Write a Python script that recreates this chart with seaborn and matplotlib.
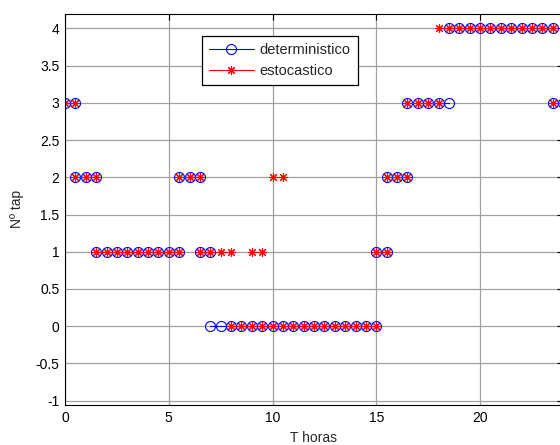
import numpy as np
import pandas as pd
import matplotlib
matplotlib.use("Agg")
import matplotlib.pyplot as plt
import seaborn as sns
from matplotlib.lines import Line2D

# half-hour intervals [0.5*i, 0.5*i+0.5], i = 0..47
det_levels = ([3] + [2]*2 + [1]*8 + [2]*2 + [1] + [0]*16 + [1] + [2]*2
              + [3]*4 + [4]*10 + [3])
est_levels = ([3] + [2]*2 + [1]*8 + [2]*2 + [1]*3 + [0]*2 + [1] + [0] + [2]
              + [0]*9 + [1] + [2]*2 + [3]*3 + [4]*11 + [3])
step = 0.5
series_names = ["deterministico", "estocastico"]
xticks = [0, 5, 10, 15, 20]
yticks = [-1, -0.5, 0, 0.5, 1, 1.5, 2, 2.5, 3, 3.5, 4]


def runs_frame(levels, name):
    rows = []
    seg = 0
    i = 0
    n = len(levels)
    while i < n:
        j = i
        while j + 1 < n and levels[j + 1] == levels[i]:
            j += 1
        for k in range(i, j + 2):
            rows.append({"t": k * step, "tap": levels[i], "seg": seg, "serie": name})
        seg += 1
        i = j + 1
    return pd.DataFrame(rows)


df_det = runs_frame(det_levels, series_names[0])
df_est = runs_frame(est_levels, series_names[1])

sns.set_style("white")
plt.rcParams["font.family"] = ["Liberation Sans", "DejaVu Sans"]

fig = plt.figure(figsize=(5.6, 4.45), dpi=100)
W, H = 560, 445
left, right, top, bottom = 65, 563, 13.5, 405
ax = fig.add_axes([left / W, 1 - bottom / H, (right - left) / W, (bottom - top) / H])

sns.lineplot(data=df_det, x="t", y="tap", units="seg", estimator=None, ax=ax,
             color="blue", marker="o", markersize=7.2, markerfacecolor="none",
             markeredgecolor="blue", markeredgewidth=0.8, linewidth=0.8, legend=False)
sns.lineplot(data=df_est, x="t", y="tap", units="seg", estimator=None, ax=ax,
             color="red", marker=(8, 2, 0), markersize=6.5,
             markeredgecolor="red", markeredgewidth=0.8, linewidth=0.8, legend=False)

ax.set_xlim(0, 24)
ax.set_ylim(-1.058, 4.2)
ax.set_xticks(xticks)
ax.set_yticks(yticks)
ax.set_yticklabels([("%g" % v) for v in yticks])
ax.grid(True, color="#a0a0a0", linewidth=0.9)
ax.set_axisbelow(True)
ax.tick_params(direction="in", length=4, width=0.8, top=True, right=True,
               labelsize=10, colors="black", pad=4)
for s in ax.spines.values():
    s.set_color("black")
    s.set_linewidth(0.8)
ax.set_xlabel("T horas", fontsize=10, labelpad=5)
ax.set_ylabel("Nº tap", fontsize=10, labelpad=8)

handles = [
    Line2D([], [], color="blue", marker="o", markerfacecolor="none", markersize=7.2,
           markeredgewidth=0.8, linewidth=0.8),
    Line2D([], [], color="red", marker=(8, 2, 0), markersize=6.5, markeredgewidth=0.8,
           linewidth=0.8),
]
leg = ax.legend(handles, series_names, loc="upper left",
                bbox_to_anchor=((201.5 - left) / (right - left), 1 - (35.5 - top) / (bottom - top)),
                fontsize=10.5, frameon=True, fancybox=False, edgecolor="black",
                framealpha=1, borderpad=0.5, handlelength=3.1, handletextpad=0.4,
                labelspacing=0.5, borderaxespad=0)
leg.get_frame().set_linewidth(0.9)

fig.savefig("out.png", dpi=100)
